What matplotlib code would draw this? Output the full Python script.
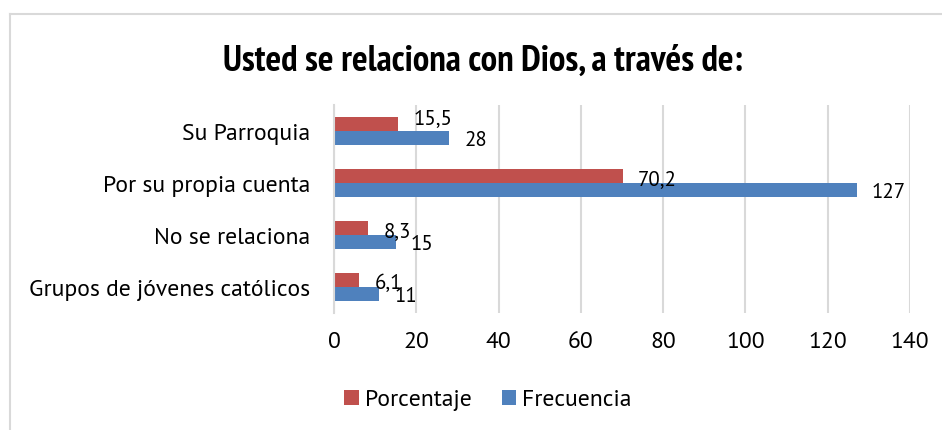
import matplotlib
matplotlib.use("Agg")
import matplotlib.pyplot as plt
import numpy as np

categories = ["Su Parroquia", "Por su propia cuenta", "No se relaciona", "Grupos de jóvenes católicos"]
porcentaje = [15.5, 70.2, 8.3, 6.1]
frecuencia = [28, 127, 15, 11]
porcentaje_labels = ["15,5", "70,2", "8,3", "6,1"]
frecuencia_labels = ["28", "127", "15", "11"]
xticks = [0, 20, 40, 60, 80, 100, 120, 140]
title = "Usted se relaciona con Dios, a través de:"

plt.rcParams['font.family'] = ['PT Sans', 'DejaVu Sans']

red = "#C0504D"
blue = "#4F81BD"
grid_c = "#D9D9D9"

fig = plt.figure(figsize=(9.42, 4.31), dpi=100)
# chart border (top and left visible)
fig.add_artist(plt.Line2D([10/942, 10/942], [0, 1 - 15/431], color=grid_c, lw=1.5, transform=fig.transFigure))
fig.add_artist(plt.Line2D([10/942, 1], [1 - 15/431, 1 - 15/431], color=grid_c, lw=1.5, transform=fig.transFigure))

ax = fig.add_axes([334/942, 1 - 314/431, (910 - 334)/942, (314 - 106)/431])
n = len(categories)
y = np.arange(n)[::-1]
h = 0.26
ax.barh(y + h/2, porcentaje, height=h, color=red, label="Porcentaje")
ax.barh(y - h/2, frecuencia, height=h, color=blue, label="Frecuencia")

# vertical nudges (points) applied by the chart's label-collision handling
pct_dy = [6, 0, 0, 0]
for yi, v, lab, dy in zip(y, porcentaje, porcentaje_labels, pct_dy):
    ax.annotate(lab, (v, yi + h/2), xytext=(11, dy), textcoords="offset points",
                ha="left", va="center_baseline", fontsize=15)
for yi, v, lab in zip(y, frecuencia, frecuencia_labels):
    ax.annotate(lab, (v, yi - h/2), xytext=(11, 0), textcoords="offset points",
                ha="left", va="center_baseline", fontsize=15)

ax.set_xlim(0, 140)
ax.set_ylim(-0.5, n - 0.5)
ax.set_xticks(xticks)
ax.set_xticklabels([str(t) for t in xticks], fontsize=17)
ax.set_yticks(y)
ax.set_yticklabels(categories, fontsize=17)
ax.tick_params(axis="x", length=0, pad=13)
ax.tick_params(axis="y", length=0, pad=17)
ax.grid(axis="x", color=grid_c, lw=1.5)
ax.set_axisbelow(True)
for s in ax.spines.values():
    s.set_visible(False)
ax.spines["left"].set_visible(True)
ax.spines["left"].set_color(grid_c)
ax.spines["left"].set_linewidth(1.5)

fig.text(483/942, 1 - 61/431, title, ha="center", va="center", fontsize=26.5,
         fontweight="bold", family=['PT Sans Narrow', 'DejaVu Sans'])

handles, labels = ax.get_legend_handles_labels()
fig.legend(handles, labels, loc="center", bbox_to_anchor=(488/942, 1 - 401/431), ncol=2,
           frameon=False, fontsize=17, handlelength=0.6, handleheight=0.6, handletextpad=0.25,
           columnspacing=1.3)

fig.savefig("out.png", dpi=100)
